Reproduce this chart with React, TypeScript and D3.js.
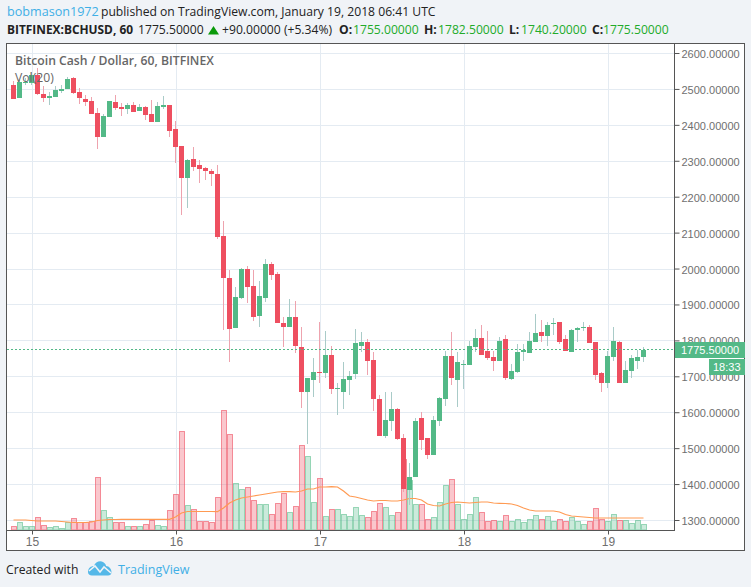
import { useEffect, useRef } from 'react';
import * as d3 from 'd3';

const opens = [
  2512, 2476, 2517, 2517, 2540, 2487, 2476, 2478, 2495, 2501,
  2531, 2492, 2473, 2467, 2434, 2367, 2423, 2464, 2450, 2445,
  2456, 2439, 2450, 2431, 2409, 2450, 2456, 2389, 2342, 2253,
  2306, 2289, 2281, 2272, 2264, 2091, 1974, 1835, 1918, 1999,
  1952, 1868, 1918, 2013, 1985, 1849, 1840, 1866, 1782, 1659,
  1690, 1712, 1710, 1762, 1665, 1657, 1690, 1707, 1787, 1798,
  1748, 1637, 1534, 1576, 1609, 1529, 1384, 1420, 1584, 1529,
  1482, 1576, 1637, 1759, 1690, 1732, 1732, 1782, 1807, 1773,
  1754, 1745, 1804, 1693, 1712, 1768, 1765, 1798, 1824, 1813,
  1846, 1852, 1804, 1768, 1829, 1835, 1838, 1796, 1710, 1682,
  1754, 1798, 1684, 1715, 1745, 1755,
];
const closes = [
  2473, 2520, 2520, 2540, 2487, 2476, 2481, 2498, 2501, 2528,
  2489, 2476, 2464, 2431, 2367, 2425, 2467, 2448, 2445, 2456,
  2436, 2450, 2428, 2409, 2453, 2456, 2384, 2339, 2253, 2303,
  2283, 2278, 2272, 2264, 2088, 1974, 1832, 1921, 1999, 1949,
  1866, 1924, 2013, 1983, 1849, 1840, 1866, 1785, 1659, 1698,
  1712, 1710, 1762, 1665, 1668, 1693, 1701, 1793, 1798, 1745,
  1637, 1534, 1579, 1609, 1526, 1387, 1420, 1576, 1523, 1482,
  1579, 1640, 1759, 1696, 1740, 1735, 1787, 1807, 1762, 1751,
  1745, 1801, 1696, 1715, 1768, 1776, 1801, 1821, 1813, 1843,
  1849, 1798, 1771, 1829, 1835, 1838, 1793, 1704, 1682, 1759,
  1801, 1684, 1718, 1751, 1754, 1775.5,
];
const highs = [
  2523, 2526, 2531, 2548, 2559, 2509, 2492, 2509, 2512, 2534,
  2534, 2503, 2484, 2478, 2448, 2431, 2467, 2484, 2462, 2462,
  2464, 2459, 2453, 2470, 2464, 2481, 2456, 2411, 2342, 2306,
  2339, 2303, 2283, 2278, 2289, 2133, 1996, 1949, 2002, 2008,
  1996, 1966, 2027, 2019, 1991, 1866, 1916, 1910, 1840, 1698,
  1751, 1852, 1827, 1785, 1682, 1740, 1715, 1832, 1824, 1804,
  1768, 1648, 1659, 1657, 1612, 1542, 1459, 1584, 1601, 1531,
  1590, 1645, 1771, 1824, 1768, 1748, 1801, 1832, 1843, 1827,
  1773, 1810, 1815, 1737, 1790, 1790, 1824, 1874, 1857, 1852,
  1863, 1852, 1815, 1832, 1840, 1852, 1843, 1796, 1712, 1771,
  1840, 1801, 1743, 1762, 1776, 1782.5,
];
const lows = [
  2473, 2476, 2512, 2512, 2484, 2464, 2456, 2478, 2489, 2501,
  2487, 2459, 2453, 2431, 2334, 2367, 2423, 2442, 2425, 2431,
  2436, 2439, 2414, 2409, 2409, 2445, 2367, 2294, 2150, 2169,
  2272, 2239, 2247, 2230, 2083, 1829, 1740, 1835, 1916, 1905,
  1855, 1838, 1907, 1969, 1849, 1782, 1838, 1765, 1612, 1512,
  1645, 1682, 1696, 1651, 1593, 1609, 1648, 1693, 1768, 1704,
  1606, 1534, 1531, 1548, 1523, 1378, 1342, 1420, 1495, 1470,
  1482, 1562, 1620, 1676, 1615, 1665, 1732, 1768, 1762, 1748,
  1715, 1745, 1690, 1690, 1710, 1743, 1765, 1798, 1796, 1785,
  1815, 1790, 1771, 1768, 1798, 1827, 1793, 1690, 1657, 1668,
  1745, 1684, 1684, 1698, 1721, 1740.2,
];
const volumes = [
  4, 8, 4, 4, 13, 5, 3, 4, 2, 8,
  12, 8, 8, 9, 53, 20, 13, 8, 8, 4,
  4, 4, 6, 10, 5, 4, 20, 36, 99, 25,
  21, 9, 9, 8, 33, 120, 96, 47, 41, 43,
  30, 26, 26, 16, 27, 37, 18, 24, 85, 74,
  28, 52, 14, 21, 21, 16, 14, 23, 15, 13,
  19, 27, 23, 15, 18, 71, 50, 26, 26, 11,
  13, 28, 45, 51, 26, 11, 16, 33, 18, 9,
  10, 9, 15, 9, 11, 8, 11, 15, 11, 14,
  9, 11, 9, 13, 9, 6, 9, 22, 11, 9,
  16, 10, 10, 7, 10, 6,
];
const volumeMa = [
  10, 10, 10, 9.5, 9, 9, 9, 9, 8.5, 8,
  7.5, 7.5, 7.5, 8, 9.5, 10, 10.5, 10.5, 10.7, 10.7,
  10.7, 10.7, 10.7, 10.7, 10.7, 10.7, 10.7, 13, 17, 18.5,
  18.5, 18.5, 18.5, 18.5, 18.3, 22, 27, 30, 32, 33,
  34, 35, 36, 37, 38, 38.3, 38.3, 38, 39, 41,
  41, 43, 43, 43.3, 43, 39, 34, 33, 31.5, 30,
  29, 29.5, 29.5, 29, 29, 30, 31.5, 31.5, 30, 26,
  24.5, 24, 26, 27.5, 28, 27.5, 27, 27.5, 28, 28,
  27, 26.7, 26.5, 26, 24.5, 22, 20, 19, 19, 19,
  19, 18, 15.5, 14, 13.5, 13, 12.5, 12, 12, 12,
  12, 12, 12, 12, 12, 12,
];
const dayIndexes = [3, 27, 51, 75, 99];
const dayLabels = ['15', '16', '17', '18', '19'];
const priceTicks = d3.range(1300, 2601, 100);
const lastPrice = 1775.5;

const UP = '#53b987';
const DOWN = '#ee4f60';
const BLUE = '#3fafe6';
const HEAD_FONT = '"Open Sans", sans-serif';
const AXIS_FONT = '"Liberation Sans", sans-serif';

const App = () => {
  const ref = useRef<SVGSVGElement>(null);

  useEffect(() => {
    const svg = d3.select(ref.current);
    svg.selectAll('*').remove();

    const x = d3.scaleLinear().domain([0, 105]).range([13.5, 643.5]);
    const y = d3.scaleLinear().domain([1300, 2600]).range([520.5, 53.5]);
    const yVol = d3.scaleLinear().domain([0, 120]).range([530, 410]);
    const dayX = d3
      .scaleOrdinal<string, number>()
      .domain(dayLabels)
      .range(dayIndexes.map((i) => x(i) + 1));

    // background and panels
    svg.append('rect').attr('width', 751).attr('height', 587).attr('fill', '#f0f3f7');
    svg.append('rect').attr('x', 6.5).attr('y', 43.5).attr('width', 738).attr('height', 507)
      .attr('fill', '#fff').attr('stroke', '#555');

    // grid
    const grid = svg.append('g').attr('stroke', '#e4ebf2').attr('stroke-width', 1);
    grid.selectAll('.h').data(priceTicks).enter().append('line').attr('class', 'h')
      .attr('x1', 7).attr('x2', 674).attr('y1', (d) => Math.round(y(d) - 0.5) + 0.5).attr('y2', (d) => Math.round(y(d) - 0.5) + 0.5);
    grid.selectAll('.v').data(dayLabels).enter().append('line').attr('class', 'v')
      .attr('y1', 44).attr('y2', 530).attr('x1', (d) => dayX(d)).attr('x2', (d) => dayX(d));

    const rows = d3.range(opens.length);
    const isUp = (i: number) => closes[i] >= opens[i];

    // volume bars
    svg.append('g').selectAll('rect').data(rows).enter().append('rect')
      .attr('x', (i) => x(i) - 2)
      .attr('width', 5)
      .attr('y', (i) => Math.round(yVol(volumes[i])) + 0.5)
      .attr('height', (i) => 530 - Math.round(yVol(volumes[i])) - 0.5)
      .attr('fill', (i) => (isUp(i) ? 'rgba(83,185,135,0.3)' : 'rgba(240,80,100,0.32)'))
      .attr('stroke', (i) => (isUp(i) ? 'rgba(83,185,135,0.55)' : 'rgba(238,79,96,0.6)'));

    // volume moving average
    const maLine = d3.line<number>().x((_, i) => x(i)).y((d) => yVol(d));
    svg.append('path').datum(volumeMa).attr('d', maLine)
      .attr('fill', 'none').attr('stroke', '#ff9a52').attr('stroke-width', 1.2);

    // wicks
    svg.append('g').selectAll('rect').data(rows).enter().append('rect')
      .attr('x', (i) => x(i) - 0.5)
      .attr('width', 1)
      .attr('y', (i) => Math.round(y(highs[i])))
      .attr('height', (i) => Math.max(1, Math.round(y(lows[i])) - Math.round(y(highs[i]))))
      .attr('fill', (i) => (isUp(i) ? '#a9cbc8' : '#eea3ae'));

    // candle bodies
    svg.append('g').selectAll('rect').data(rows).enter().append('rect')
      .attr('x', (i) => x(i) - 2.5)
      .attr('width', 5)
      .attr('y', (i) => Math.round(y(Math.max(opens[i], closes[i]))))
      .attr('height', (i) =>
        Math.max(1, Math.round(y(Math.min(opens[i], closes[i]))) - Math.round(y(Math.max(opens[i], closes[i]))))
      )
      .attr('fill', (i) => (isUp(i) ? UP : DOWN));

    // last price line
    svg.append('line').attr('x1', 7).attr('x2', 674).attr('y1', Math.floor(y(lastPrice)) + 0.5).attr('y2', Math.floor(y(lastPrice)) + 0.5)
      .attr('stroke', UP).attr('stroke-dasharray', '2 2');

    // axes
    const yAxis = d3.axisRight(y).tickValues(priceTicks).tickFormat(d3.format('.5f') as any).tickSize(5).tickPadding(2).offset(0);
    const yG = svg.append('g').attr('transform', 'translate(674.5,0)').call(yAxis);
    yG.select('.domain').attr('stroke', '#555').attr('d', 'M0,43.5V531');
    yG.selectAll('.tick line').attr('stroke', '#555');
    yG.selectAll('text').attr('fill', '#6f6f6f').attr('dy', '0.41em').style('font', `11px ${AXIS_FONT}`);

    const xAxis = d3.axisBottom(dayX as any).tickSize(4).tickPadding(3).offset(0);
    const xG = svg.append('g').attr('transform', 'translate(0,530.5)').call(xAxis);
    xG.select('.domain').attr('stroke', '#555').attr('d', 'M6.5,0H674');
    xG.selectAll('.tick line').attr('stroke', '#555');
    xG.selectAll('text').attr('fill', '#6f6f6f').style('font', `12px ${AXIS_FONT}`);

    // price labels
    svg.append('rect').attr('x', 675).attr('y', 342).attr('width', 70).attr('height', 16).attr('fill', UP);
    svg.append('rect').attr('x', 709).attr('y', 359).attr('width', 36).attr('height', 16).attr('fill', UP);
    const text = (
      tx: number,
      ty: number,
      s: string,
      fill: string,
      font: string,
      weight = 400
    ) =>
      svg.append('text').attr('x', tx).attr('y', ty).attr('fill', fill)
        .style('font', `${weight} ${font}`).text(s);
    text(681, 354, '1775.50000', '#fff', `11px ${AXIS_FONT}`);
    text(713, 371, '18:33', '#fff', `11px ${AXIS_FONT}`);

    // legend on the pane
    text(15, 65, 'Bitcoin Cash / Dollar, 60, BITFINEX', '#666', `12.2px ${HEAD_FONT}`, 600);
    text(15, 82, 'Vol(20)', '#666', `12.2px ${HEAD_FONT}`);

    // header
    const headFont = `12.15px ${HEAD_FONT}`;
    const GREEN = '#22ab2a';
    text(7, 16, 'bobmason1972', BLUE, `12.6px ${HEAD_FONT}`);
    text(101, 16, 'published on TradingView.com, January 19, 2018 06:41 UTC', '#222', headFont);
    text(7, 34, 'BITFINEX:BCHUSD, 60', '#222', `11.9px ${HEAD_FONT}`, 700);
    text(138, 34, '1775.50000', '#222', headFont);
    svg.append('path').attr('d', 'M213.5,26L219,34.5H208Z').attr('fill', '#0a9a0a');
    text(222, 34, '+90.00000 (+5.34%)', '#222', headFont);
    text(339, 34, 'O:', '#222', headFont, 700);
    text(353, 34, '1755.00000', GREEN, headFont);
    text(424, 34, 'H:', '#222', headFont, 700);
    text(438, 34, '1782.50000', GREEN, headFont);
    text(509, 34, 'L:', '#222', headFont, 700);
    text(521, 34, '1740.20000', GREEN, headFont);
    text(592, 34, 'C:', '#222', headFont, 700);
    text(603, 34, '1775.50000', GREEN, headFont);

    // footer
    text(6, 574, 'Created with', '#222', `12.2px ${HEAD_FONT}`);
    text(118, 574, 'TradingView', BLUE, `12.5px ${HEAD_FONT}`);
    svg.append('path')
      .attr('d', 'M88,572C88,568 91,566 94,566C95,562 100,560 103,562C105,563 106,565 106,566C109,566 111.5,569 111.5,572C111.5,574.5 110,575.5 108,575.5H92C89.5,575.5 88,574 88,572Z')
      .attr('fill', '#55b8e8');
    svg.append('path').attr('d', 'M89,571L95,566L100,572L104,567L111,573')
      .attr('fill', 'none').attr('stroke', '#f0f3f7').attr('stroke-width', 1.6);
  }, []);

  return (
    <svg
      ref={ref}
      width={751}
      height={587}
      style={{ position: 'absolute', left: 0, top: 0, display: 'block' }}
    />
  );
};

export default App;
